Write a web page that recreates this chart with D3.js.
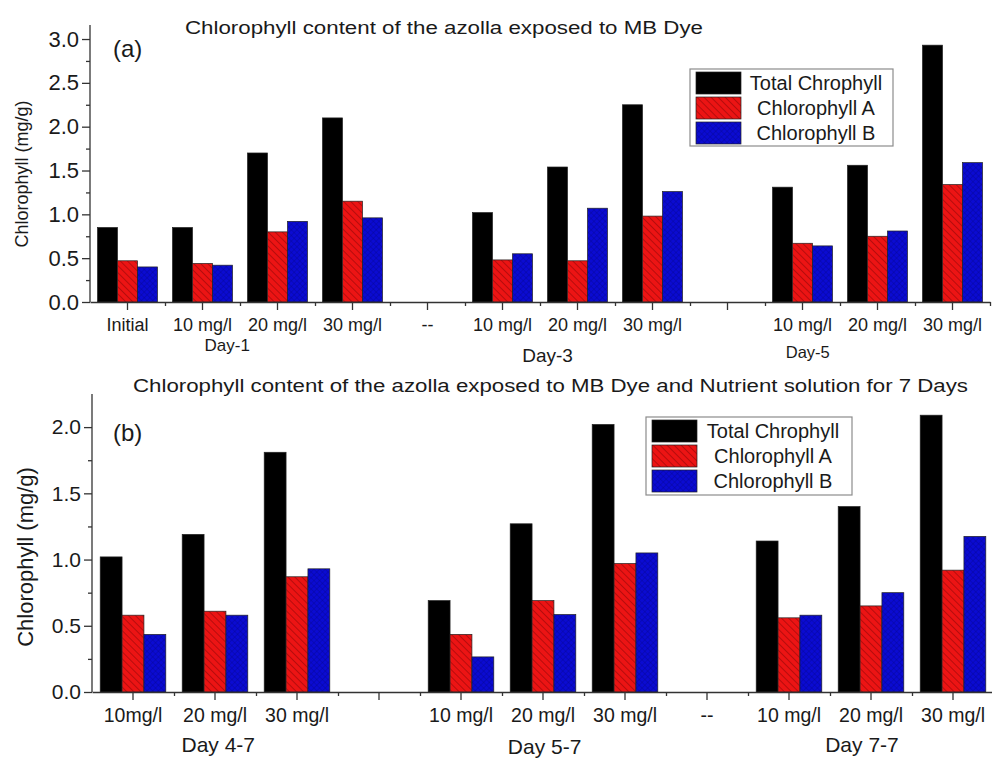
<!DOCTYPE html>
<html>
<head>
<meta charset="utf-8">
<script src="https://cdn.jsdelivr.net/npm/d3@7"></script>
<style>
  body { margin: 0; background: #fff; }
  svg { display: block; font-family: "Liberation Sans", Arial, sans-serif; }
</style>
</head>
<body>
<svg id="chart" width="992" height="758"></svg>
<script>
// legend / series
const seriesNames = ["Total Chrophyll", "Chlorophyll A", "Chlorophyll B"]

// panel (a)
const catsA = ["Initial", "10 mg/l", "20 mg/l", "30 mg/l", "--", "10 mg/l", "20 mg/l", "30 mg/l", "", "10 mg/l", "20 mg/l", "30 mg/l"]
const totalA = [0.85, 0.85, 1.70, 2.10, null, 1.02, 1.54, 2.25, null, 1.31, 1.56, 2.93]
const chlA_A = [0.47, 0.44, 0.80, 1.15, null, 0.48, 0.47, 0.98, null, 0.67, 0.75, 1.34]
const chlB_A = [0.40, 0.42, 0.92, 0.96, null, 0.55, 1.07, 1.26, null, 0.64, 0.81, 1.59]
const daysA = ["Day-1", "Day-3", "Day-5"]
const yTicksA = [0, 0.5, 1.0, 1.5, 2.0, 2.5, 3.0]

// panel (b)
const catsB = ["10mg/l", "20 mg/l", "30 mg/l", "", "10 mg/l", "20 mg/l", "30 mg/l", "--", "10 mg/l", "20 mg/l", "30 mg/l"]
const totalB = [1.02, 1.19, 1.81, null, 0.69, 1.27, 2.02, null, 1.14, 1.40, 2.09]
const chlA_B = [0.58, 0.61, 0.87, null, 0.435, 0.69, 0.97, null, 0.56, 0.65, 0.92]
const chlB_B = [0.435, 0.58, 0.93, null, 0.265, 0.585, 1.05, null, 0.58, 0.75, 1.175]
const daysB = ["Day 4-7", "Day 5-7", "Day 7-7"]
const yTicksB = [0, 0.5, 1.0, 1.5, 2.0]

const svg = d3.select('#chart')
const ink = '#1a1a1a'

// fills: black, hatched red, cross-hatched blue
const defs = svg.append('defs')
let pr = defs.append('pattern').attr('id', 'hatchRed')
	.attr('patternUnits', 'userSpaceOnUse').attr('width', 5).attr('height', 5)
	.attr('patternTransform', 'rotate(-45)')
pr.append('rect').attr('width', 5).attr('height', 5).attr('fill', '#ec1414')
pr.append('line').attr('x1', 0).attr('y1', 0).attr('x2', 0).attr('y2', 5)
	.attr('stroke', '#8a0606').attr('stroke-width', 1.1)
let pb = defs.append('pattern').attr('id', 'hatchBlue')
	.attr('patternUnits', 'userSpaceOnUse').attr('width', 4).attr('height', 4)
	.attr('patternTransform', 'rotate(45)')
pb.append('rect').attr('width', 4).attr('height', 4).attr('fill', '#0b0bd2')
pb.append('line').attr('x1', 0).attr('y1', 0).attr('x2', 0).attr('y2', 4)
	.attr('stroke', '#05058a').attr('stroke-width', 0.7)
pb.append('line').attr('x1', 0).attr('y1', 0).attr('x2', 4).attr('y2', 0)
	.attr('stroke', '#05058a').attr('stroke-width', 0.7)
const fills = ['#000000', 'url(#hatchRed)', 'url(#hatchBlue)']

function panel(p) {
	let g = svg.append('g')
	let idx = d3.range(p.cats.length)
	let x = d3.scaleBand().domain(idx).range(p.xRange).padding(0)
	let xs = d3.scaleBand().domain([0, 1, 2])
		.range([x.bandwidth() * 0.1, x.bandwidth() * 0.9]).padding(0)
	let y = d3.scaleLinear().domain([0, p.yMax]).range(p.yRange)

	// bars
	let rows = []
	idx.forEach(i => p.series.forEach((s, k) => {
		if (s[i] != null) rows.push({ i: i, k: k, v: s[i] })
	}))
	g.selectAll('.bar').data(rows).join('rect')
		.attr('class', 'bar')
		.attr('x', d => x(d.i) + xs(d.k))
		.attr('width', xs.bandwidth())
		.attr('y', d => y(d.v))
		.attr('height', d => y(0) - y(d.v))
		.attr('fill', d => fills[d.k])
		.attr('stroke', '#222').attr('stroke-width', 0.7)

	// y axis: major + minor
	let ya = g.append('g').attr('transform', `translate(${p.xRange[0]},0)`)
		.call(d3.axisLeft(y).tickValues(p.yTicks).tickFormat(d3.format('.1f'))
			.tickSize(8).tickPadding(3).tickSizeOuter(0))
	ya.select('.domain').attr('d', `M0,${p.yRange[0]}V${p.yRange[1]}`)
	ya.selectAll('text').attr('font-size', p.yFont).attr('fill', ink)
	g.append('g').attr('transform', `translate(${p.xRange[0]},0)`)
		.call(d3.axisLeft(y).tickValues(p.yTicks.map(t => t + 0.25).filter(t => t < p.yMax))
			.tickFormat('').tickSize(4).tickSizeOuter(0))
		.select('.domain').remove()

	// x axis: labelled centres + minor ticks at the band edges
	let xa = g.append('g').attr('transform', `translate(0,${p.yRange[0]})`)
		.call(d3.axisBottom(x).tickFormat(i => p.cats[i]).tickSize(8).tickPadding(8).tickSizeOuter(0))
	xa.selectAll('text').attr('font-size', p.xFont).attr('fill', ink)
	let edges = d3.scaleLinear().domain([0, p.cats.length]).range(p.xRange)
	g.append('g').attr('transform', `translate(0,${p.yRange[0]})`)
		.call(d3.axisBottom(edges).tickValues(d3.range(1, p.cats.length + 1))
			.tickFormat('').tickSize(4).tickSizeOuter(0))
		.select('.domain').remove()
	g.selectAll('.domain, .tick line').attr('stroke', '#333').attr('stroke-width', 1.3)

	// day labels under groups
	g.selectAll('.day').data(p.days).join('text')
		.attr('class', 'day')
		.attr('x', (d, j) => edges(p.dayAt[j]))
		.attr('y', (d, j) => p.dayY[j])
		.attr('text-anchor', 'middle')
		.attr('font-size', (d, j) => p.dayFont[j])
		.attr('fill', ink)
		.text(d => d)

	// title, panel tag, y label
	g.append('text').attr('x', p.title.x).attr('y', p.title.y)
		.attr('font-size', 17.5).attr('fill', ink)
		.attr('textLength', p.title.w).attr('lengthAdjust', 'spacingAndGlyphs')
		.text(p.title.text)
	g.append('text').attr('x', p.tag.x).attr('y', p.tag.y)
		.attr('font-size', 24).attr('fill', ink).text(p.tag.text)
	g.append('text')
		.attr('transform', `translate(${p.ylab.x},${p.ylab.y}) rotate(-90)`)
		.attr('text-anchor', 'middle').attr('font-size', p.ylab.size).attr('fill', ink)
		.text('Chlorophyll (mg/g)')

	// legend
	let L = p.legend
	let lg = g.append('g').attr('transform', `translate(${L.x},${L.y})`)
	lg.append('rect').attr('width', L.w).attr('height', L.h)
		.attr('fill', '#fff').attr('stroke', '#8c8c8c').attr('stroke-width', 1.2)
	let item = lg.selectAll('.item').data(seriesNames).join('g')
		.attr('transform', (d, k) => `translate(6,${3 + k * 25})`)
	item.append('rect').attr('width', 45).attr('height', 22)
		.attr('fill', (d, k) => fills[k]).attr('stroke', '#222').attr('stroke-width', 0.7)
	item.append('text').attr('x', L.textX).attr('y', 18)
		.attr('text-anchor', 'middle').attr('font-size', 20).attr('fill', ink)
		.text(d => d)
}

panel({
	cats: catsA, series: [totalA, chlA_A, chlB_A],
	xRange: [90, 990], yRange: [302, 25], yMax: 3.16, yTicks: yTicksA,
	yFont: 22, xFont: 18,
	days: daysA, dayAt: [1.83, 6.1, 9.57], dayY: [351, 362, 358], dayFont: [17, 19, 16.5],
	title: { x: 185, y: 34, w: 518, text: 'Chlorophyll content of the azolla exposed to MB Dye' },
	tag: { x: 113, y: 57, text: '(a)' },
	ylab: { x: 28, y: 174, size: 18 },
	legend: { x: 690, y: 69, w: 203, h: 77, textX: 120 }
})

panel({
	cats: catsB, series: [totalB, chlA_B, chlB_B],
	xRange: [92, 994], yRange: [692, 394], yMax: 2.25, yTicks: yTicksB,
	yFont: 21, xFont: 19.5,
	days: daysB, dayAt: [1.54, 5.52, 9.39], dayY: [752, 754, 752], dayFont: [21, 21, 21],
	title: { x: 133, y: 392, w: 835, text: 'Chlorophyll content of the azolla exposed to MB Dye and Nutrient solution for 7 Days' },
	tag: { x: 113, y: 441, text: '(b)' },
	ylab: { x: 33, y: 557, size: 22 },
	legend: { x: 646, y: 417, w: 206, h: 78, textX: 121 }
})
</script>
</body>
</html>
